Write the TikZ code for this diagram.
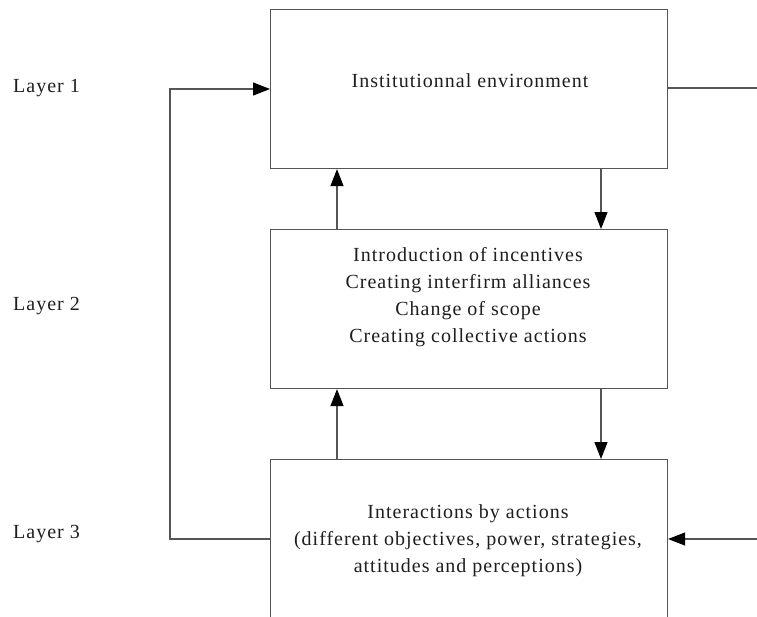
\documentclass[tikz,border=0pt]{standalone}
\usepackage{fontspec}
\setmainfont[LetterSpace=5]{Liberation Serif}
\usetikzlibrary{arrows.meta}
\definecolor{linegray}{RGB}{85,85,85}
\definecolor{textgray}{RGB}{30,30,30}
\begin{document}
\begin{tikzpicture}[x=1pt,y=-1pt,
  box/.style={draw=linegray,line width=1.1pt,minimum width=397pt,minimum height=159pt,inner sep=0pt,anchor=north west},
  txt/.style={font=\fontsize{20}{27}\selectfont,align=center,text=textgray,inner sep=0pt},
  conn/.style={draw=linegray,line width=1.1pt},
  arr/.style={conn,-{Triangle[length=17pt,width=13pt,color=black]}}]
\useasboundingbox (0,0) rectangle (757,616);
\clip (0,0) rectangle (757,616);
\node[box] (b1) at (270,9) {};
\node[box] (b2) at (270,229) {};
\node[box,minimum height=180pt] (b3) at (270,459) {};
\node[txt] (t1) at (470,81) {Institutionnal environment};
\node[txt] (t2) at (468,297) {Introduction of incentives\\Creating interfirm alliances\\Change of scope\\Creating collective actions};
\node[txt] (t3) at (468,541) {Interactions by actions\\(different objectives, power, strategies,\\attitudes and perceptions)};
\node[txt,anchor=west] (l1) at (13,88) {Layer 1};
\node[txt,anchor=west] (l2) at (13,306) {Layer 2};
\node[txt,anchor=west] (l3) at (13,534) {Layer 3};
\coordinate (xl) at (337,0);
\coordinate (xr) at (601,0);
\draw[arr] (b2.north -| xl) -- (b1.south -| xl);
\draw[arr] (b1.south -| xr) -- (b2.north -| xr);
\draw[arr] (b3.north -| xl) -- (b2.south -| xl);
\draw[arr] (b2.south -| xr) -- (b3.north -| xr);
\coordinate (c1) at (170,539);
\coordinate (c2) at (170,89);
\draw[arr] (b3.west |- c1) -- (c1) -- (c2) -- (b1.west |- c2);
\coordinate (r1) at (757,88);
\draw[conn] (b1.east |- r1) -- (r1);
\coordinate (r3) at (757,539);
\draw[arr] (r3) -- (b3.east |- r3);
\end{tikzpicture}
\end{document}
